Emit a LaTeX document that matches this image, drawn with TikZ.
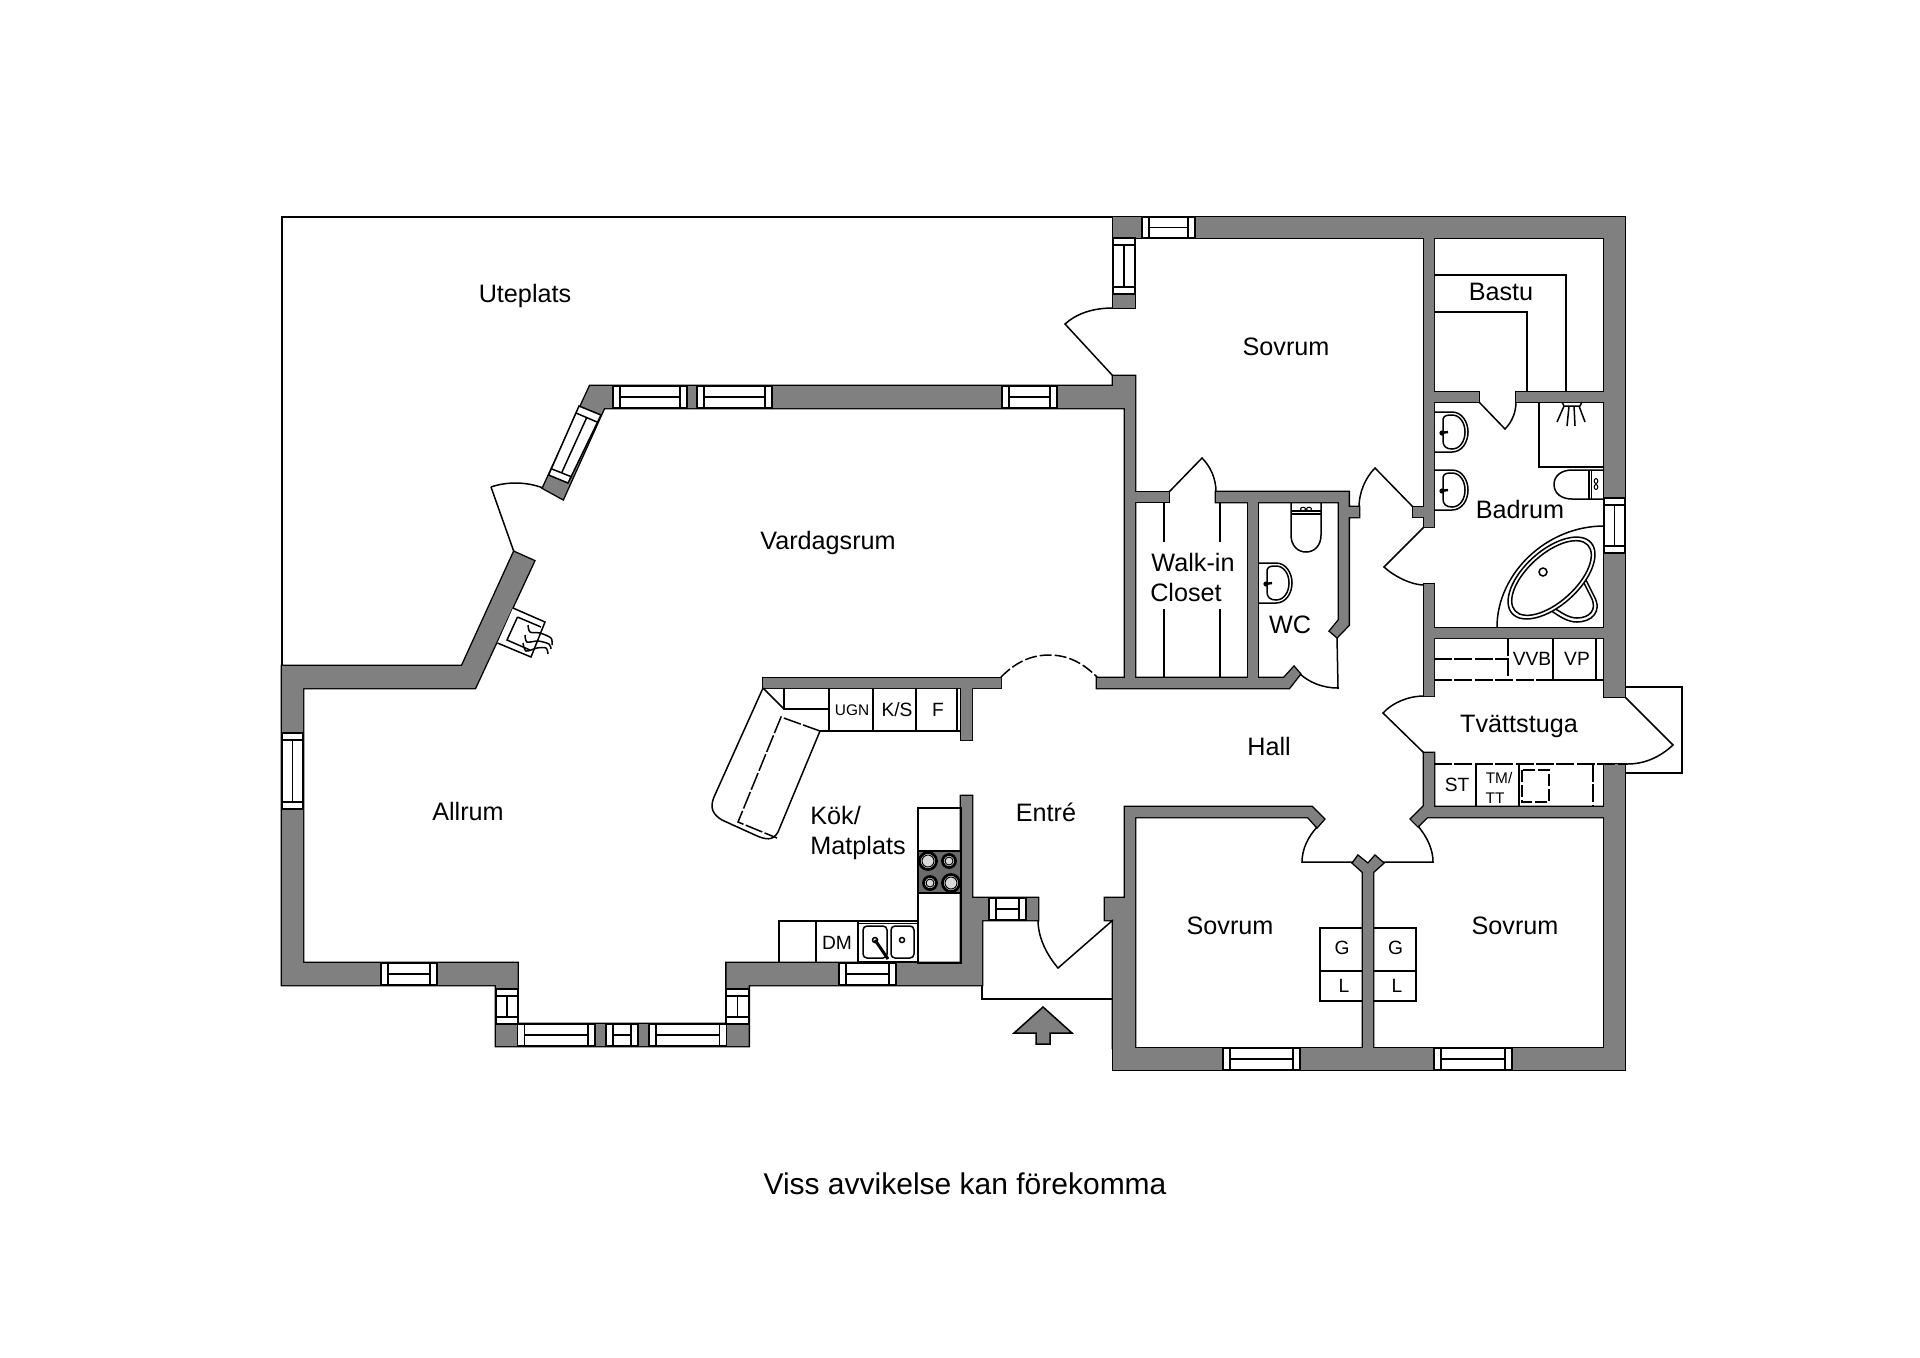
\documentclass[tikz,border=0pt]{standalone}
\usepackage{fontspec}
\setmainfont{Liberation Sans}
\definecolor{wallgray}{gray}{0.5}
\definecolor{hob}{gray}{0.42}
\definecolor{ringfill}{gray}{0.85}
\tikzset{
  wallstroke/.style={draw=black,line width=1.4pt,miter limit=4},
  wallfill/.style={fill=wallgray},
  ln/.style={draw=black,line width=0.75pt},
  thk/.style={draw=black,line width=1.5pt},
  dsh/.style={draw=black,line width=0.75pt,dash pattern=on 9pt off 1.2pt},
  dshb/.style={draw=black,line width=0.75pt,dash pattern=on 6pt off 1.5pt},
  win/.style={draw=black,line width=0.75pt,fill=white},
  lab/.style={font=\fontsize{12.6}{14}\selectfont,inner sep=0pt,text=black},
  labs/.style={font=\fontsize{9.6}{12}\selectfont,inner sep=0pt,text=black},
  labt/.style={font=\fontsize{7.7}{10}\selectfont,inner sep=0pt,text=black},
}
\newcommand\wallpieces[1]{%
  \path[#1] (1113,217) -- (1625,217) -- (1625,238) -- (1113,238) -- cycle;
  \path[#1] (1113,238) -- (1135,238) -- (1135,308) -- (1113,308) -- cycle;
  \path[#1] (590,386) -- (1113,386) -- (1113,376) -- (1135,376) -- (1135,678) -- (1125,678) -- (1125,408) -- (604,408) -- (563,499) -- (543,488) -- cycle;
  \path[#1] (1097,678) -- (1284,678) -- (1294,667) -- (1300,674) -- (1289,688) -- (1097,688) -- cycle;
  \path[#1] (1135,492) -- (1169,492) -- (1169,502) -- (1135,502) -- cycle;
  \path[#1] (1216,492) -- (1348.6,492) -- (1348.6,507) -- (1359,507) -- (1359,517) -- (1348.6,517) -- (1348.6,625) -- (1337,637) -- (1330,631) -- (1339,620) -- (1339,502) -- (1216,502) -- cycle;
  \path[#1] (1248,502) -- (1258,502) -- (1258,678) -- (1248,678) -- cycle;
  \path[#1] (1424,238) -- (1434,238) -- (1434,527) -- (1424,527) -- (1424,517) -- (1413,517) -- (1413,507) -- (1424,507) -- cycle;
  \path[#1] (1424,584) -- (1434,584) -- (1434,628) -- (1604,628) -- (1604,638) -- (1434,638) -- (1434,696) -- (1424,696) -- cycle;
  \path[#1] (1424,753) -- (1434,753) -- (1434,807) -- (1604,807) -- (1604,817) -- (1427,817) -- (1418,826) -- (1411,819) -- (1424,806) -- cycle;
  \path[#1] (1604,238) -- (1625,238) -- (1625,697) -- (1604,697) -- cycle;
  \path[#1] (1604,764) -- (1625,764) -- (1625,1048) -- (1604,1048) -- cycle;
  \path[#1] (1434,392) -- (1479,392) -- (1479,402) -- (1434,402) -- cycle;
  \path[#1] (1516,392) -- (1604,392) -- (1604,402) -- (1516,402) -- cycle;
  \path[#1] (1113,1048) -- (1625,1048) -- (1625,1070) -- (1113,1070) -- cycle;
  \path[#1] (1125,807) -- (1312,807) -- (1324,819) -- (1317,827) -- (1308,817) -- (1135,817) -- (1135,1048) -- (1113,1048) -- (1113,920) -- (1105,920) -- (1105,898) -- (1125,898) -- cycle;
  \path[#1] (1363,1048) -- (1363,872) -- (1353,863) -- (1358,856) -- (1368,864) -- (1375,856) -- (1383,863) -- (1373,872) -- (1373,1048) -- cycle;
  \path[#1] (282,666) -- (462,666) -- (514,552) -- (534,561) -- (475,688) -- (303,688) -- (303,963) -- (517.5,963) -- (517.5,1024) -- (726.5,1024) -- (726.5,963) -- (961,963) -- (961,796) -- (972,796) -- (972,898) -- (1038,898) -- (1038,920) -- (982,920) -- (982,985) -- (748.6,985) -- (748.6,1046) -- (496,1046) -- (496,985) -- (282,985) -- cycle;
  \path[#1] (763,678) -- (1001,678) -- (1001,688) -- (972,688) -- (972,740) -- (961,740) -- (961,688) -- (763,688) -- cycle;
}
% horizontal window: x1 x2 y1 y2
\newcommand\winH[4]{%
  \path[win] (#1,#3) rectangle (#2,#4);
  \draw[ln] ({#1+7},#3) -- ({#1+7},#4) ({#2-7},#3) -- ({#2-7},#4) ({#1+7},{(#3+#4)/2}) -- ({#2-7},{(#3+#4)/2});
}
% vertical window: x1 x2 y1 y2
\newcommand\winV[4]{%
  \path[win] (#1,#3) rectangle (#2,#4);
  \draw[ln] (#1,{#3+7}) -- (#2,{#3+7}) (#1,{#4-7}) -- (#2,{#4-7}) ({(#1+#2)/2},{#3+7}) -- ({(#1+#2)/2},{#4-7});
}
\newcommand\basin[2]{%
  \begin{scope}[shift={(#1,#2)}]
    \draw[ln] (0,-20) -- (18,-20) .. controls (28,-20) and (34,-10) .. (34,0) .. controls (34,10) and (28,20) .. (18,20) -- (0,20);
    \draw[ln] (9,-13) .. controls (10,-17) and (14,-17) .. (18,-17) .. controls (26,-17) and (31,-9) .. (31,0) .. controls (31,9) and (26,17) .. (18,17) .. controls (12,17) and (9,14) .. (9,9) -- cycle;
    \draw[draw=black,line width=1.2pt] (6,1) -- (14,0);
    \fill[black] (8,1) circle (2.6);
  \end{scope}
}
\newcommand\burner[3]{%
  \draw[draw=black,line width=1.4pt,fill=white] (#1,#2) circle (#3);
  \draw[draw=black,line width=0.5pt,fill=ringfill] (#1,#2) circle ({#3-2.5});
}
\begin{document}
\begin{tikzpicture}[x=0.5pt,y=-0.5pt,line join=miter]
\useasboundingbox (0,0) rectangle (1920,1357);
\fill[white] (0,0) rectangle (1920,1357);

% patio outline and entrance porch, step
\draw[ln] (282,666) -- (282,217) -- (1113,217);
\draw[ln] (1038,920) -- (982,920) -- (982,999) -- (1113,999);
\draw[ln] (1625,687) -- (1682,687) -- (1682,773) -- (1625,773);

% walls: stroke first, then fill, so the pieces merge
\wallpieces{wallstroke}
\wallpieces{wallfill}

% windows
\winH{1142}{1195}{217}{238}
\winV{1113}{1135}{238}{294}
\winH{613}{687}{386}{408}
\winH{697}{772}{386}{408}
\winH{1002}{1057}{386}{408}
\winV{1604}{1625}{498}{553}
\winV{282}{303}{733}{809}
\winH{381}{437}{963}{985}
\winV{496}{517.5}{989}{1024}
\winV{726.5}{748.6}{989}{1024}
\winH{517.5}{595}{1024}{1046}
\winH{606}{638}{1024}{1046}
\winH{649}{726.5}{1024}{1046}
\winH{839}{896}{963}{985}
\winH{989}{1026}{898}{920}
\winH{1223}{1300}{1048}{1070}
\winH{1434}{1512}{1048}{1070}
% diagonal window
\path[win] (548.6,475) -- (568,483) -- (601,415) -- (579,406) -- cycle;
\draw[ln] (552,469) -- (572,477) (576,413) -- (597,422) (562,472) -- (586.5,418);

% doors
\draw[ln] (1113,308) .. controls (1092,308) and (1076,314) .. (1065,324) -- (1113,376);
\draw[ln] (1169,492) -- (1202,458) .. controls (1210,466) and (1216,478) .. (1216,492);
\draw[ln] (1359,507) .. controls (1359,493) and (1365,478) .. (1375,468) -- (1413,507);
\draw[ln] (1479,402) -- (1505,429) .. controls (1512,422) and (1516,412) .. (1516,402);
\draw[ln] (1424,527) -- (1384,567) .. controls (1395,577) and (1412,585) .. (1424,585);
\draw[ln] (1424,696) .. controls (1408,696) and (1392,703) .. (1383,713) -- (1424,753);
\draw[ln] (1625,697) -- (1673,745) .. controls (1660,757) and (1645,764) .. (1627,764);
\draw[ln] (1300,674) .. controls (1309,682) and (1322,688) .. (1338,688) -- (1337,637);
\draw[ln] (1317,827) .. controls (1308,837) and (1302,849) .. (1302,862) -- (1353,862);
\draw[ln] (1418,826) .. controls (1427,837) and (1433,849) .. (1433,862) -- (1383,862);
\draw[ln] (1113,920) -- (1058,968) .. controls (1047,955) and (1038,938) .. (1038,920);
\draw[ln] (491,487) .. controls (505,482) and (525,481) .. (543,488);
\draw[ln] (491,487) -- (514,552);
\draw[dshb] (1001,677) .. controls (1015,663) and (1030,655) .. (1049,655) .. controls (1068,655) and (1083,663) .. (1097,677);

% closet rods
\draw[ln] (1164,502) -- (1164,542) (1220,502) -- (1220,542) (1164,609) -- (1164,678) (1220,609) -- (1220,678);

% sauna benches
\draw[ln] (1434,275) -- (1566,275) -- (1566,392);
\draw[ln] (1434,312) -- (1527,312) -- (1527,392);

% shower
\draw[ln] (1539,402) -- (1539,467) -- (1604,467);
\draw[ln] (1562,402) -- (1564,406) -- (1580,406) -- (1582,402);
\draw[ln] (1564,406) -- (1557,422) (1569,406) -- (1567,426) (1574,406) -- (1575,426) (1579,406) -- (1585,422);

% basins
\basin{1434}{432}
\basin{1434}{490}
\basin{1258}{583}

% toilets
\draw[ln] (1604,470) -- (1572,470) .. controls (1561,470) and (1554,476) .. (1554,484.5) .. controls (1554,493) and (1561,499) .. (1572,499) -- (1604,499);
\draw[ln] (1589,470) -- (1589,499) (1591.5,470) -- (1591.5,499);
\draw[ln,line width=0.5pt] (1596,481) ellipse (1.8 and 2.5) (1596,487) ellipse (1.8 and 2.5);
\draw[ln] (1291,502) -- (1291,535) .. controls (1291,546) and (1298,552) .. (1306,552) .. controls (1314,552) and (1321,546) .. (1321,535) -- (1321,502);
\draw[ln] (1291,511) -- (1321,511) (1291,514) -- (1321,514);
\draw[ln,line width=0.5pt] (1303,509) ellipse (2.5 and 1.8) (1309,509) ellipse (2.5 and 1.8);

% bath tub
\draw[ln] (1604,526) .. controls (1546,526) and (1497,574) .. (1497,627);
\draw[ln] (1584,576) -- (1594,596) .. controls (1603,612) and (1591,622) .. (1577,622) .. controls (1567,622) and (1559,616) .. (1550,610);
\draw[ln] (1582,579) -- (1591,597) .. controls (1598,610) and (1589,618) .. (1577,618) .. controls (1569,618) and (1562,613) .. (1554,608);
\draw[ln,fill=white,shift={(1551.5,578)},rotate=42] (0,0) ellipse (53 and 27.5);
\draw[ln,shift={(1551.5,578)},rotate=42] (0,0) ellipse (49 and 24);
\draw[ln] (1543,572) circle (4);

% laundry units
\draw[ln] (1553,638) -- (1553,680) -- (1604,680) (1596,638) -- (1596,680);
\draw[dsh] (1508,638) -- (1508,680);
\draw[dsh] (1434,680) -- (1553,680);
\draw[dsh] (1434,659) -- (1508,659);
\draw[ln] (1476,764) -- (1476,807) (1519,764) -- (1519,807);
\draw[dsh] (1434,764) -- (1627,764);
\draw[dsh] (1593,764) -- (1593,807);
\draw[dshb] (1522,770) rectangle (1549,802);

% wardrobes
\draw[ln] (1363,928) -- (1320,928) -- (1320,1001) -- (1363,1001) (1320,971) -- (1363,971);
\draw[ln] (1373,928) -- (1416,928) -- (1416,1001) -- (1373,1001) (1373,971) -- (1416,971);

% kitchen units
\draw[ln] (829,688) -- (829,731) (873,688) -- (873,731) (916,688) -- (916,731) (957,688) -- (957,731);
\draw[ln] (961,731) -- (820,731);
\draw[ln] (784,688) -- (784,709) -- (829,709);
\draw[ln] (763,688) -- (784,709);
\draw[ln] (763,688) -- (714,797) .. controls (709,809) and (714,815) .. (722,820) -- (755,835) .. controls (766,840) and (773,841) .. (778,832) -- (820,731);
\draw[dsh] (820,731) -- (781,717) -- (738,822) -- (777,838);
\draw[ln] (918,808) rectangle (961,963);
\draw[ln] (779,963) -- (779,921) -- (918,921);
\draw[ln] (816,921) -- (816,963) (858,921) -- (858,963);
% hob
\draw[ln,fill=hob] (918,851) rectangle (961,893);
\burner{928}{861}{8.5}
\burner{949}{861}{6.5}
\burner{930}{883}{6.5}
\burner{951}{883}{8.5}
% sink
\draw[ln] (858,923.5) rectangle (918,962);
\draw[ln,rounded corners=2pt] (863,926) rectangle (887,958);
\draw[ln,rounded corners=2pt] (891,926) rectangle (914,958);
\draw[ln] (875,940) circle (2.5) (902,940) circle (2.5);
\draw[thk] (875,940) -- (888,959);

% fireplace
\draw[ln,fill=white] (513,608) -- (545,622) -- (531,657) -- (497.5,643);
\draw[ln] (517.5,617) -- (541,627);
\draw[ln] (517.5,617) -- (507,640) -- (530,650);
\draw[ln] plot[smooth] coordinates {(528,625) (530,632) (540,633) (551,638) (552,645)};
\draw[ln] plot[smooth] coordinates {(525,635) (527,642) (538,641) (549,644) (551,649)};
\draw[ln] plot[smooth] coordinates {(523,643) (526,651) (537,648) (546,648) (548,654)};

% entrance arrow
\draw[ln,fill=wallgray] (1043,1007) -- (1072,1033) -- (1050,1033) -- (1050,1044) -- (1036,1044) -- (1036,1033) -- (1014,1033) -- cycle;

% labels
\node[lab] (uteplats) at (525,295.5) {Uteplats};
\node[lab] (sovruma) at (1286,347) {Sovrum};
\node[lab] (bastu) at (1501,292) {Bastu};
\node[lab] (badrum) at (1520,509) {Badrum};
\node[lab] (vardagsrum) at (828,543) {Vardagsrum};
\node[lab] (walkin) at (1193,562) {Walk-in};
\node[lab] (closet) at (1186,592) {Closet};
\node[lab] (wc) at (1290,625) {WC};
\node[lab] (hall) at (1269,746) {Hall};
\node[lab] (tvatt) at (1519,726) {Tvättstuga};
\node[lab] (allrum) at (468,811) {Allrum};
\node[lab,anchor=west] (kok) at (810,815) {Kök/};
\node[lab,anchor=west] (matplats) at (810,848) {Matplats};
\node[lab] (entre) at (1046,812) {Entré};
\node[lab] (sovrumb) at (1230,926) {Sovrum};
\node[lab] (sovrumc) at (1515,926) {Sovrum};
\node[labs] (vvb) at (1532,659) {VVB};
\node[labs] (vp) at (1577,659) {VP};
\node[labs] (st) at (1457,785) {ST};
\node[labt] (tm) at (1499,778) {TM/};
\node[labt] (tt) at (1495,798) {TT};
\node[labt] (ugn) at (852,710) {UGN};
\node[labs] (ks) at (897,710) {K/S};
\node[labs] (f) at (938,710) {F};
\node[labs] (dm) at (837,943) {DM};
\node[labs] (ga) at (1342,948) {G};
\node[labs] (la) at (1344,986) {L};
\node[labs] (gb) at (1395.5,948) {G};
\node[labs] (lb) at (1397,986) {L};
\node[inner sep=0pt,font=\fontsize{15}{18}\selectfont] (note) at (965,1184) {Viss avvikelse kan förekomma};
\end{tikzpicture}
\end{document}
